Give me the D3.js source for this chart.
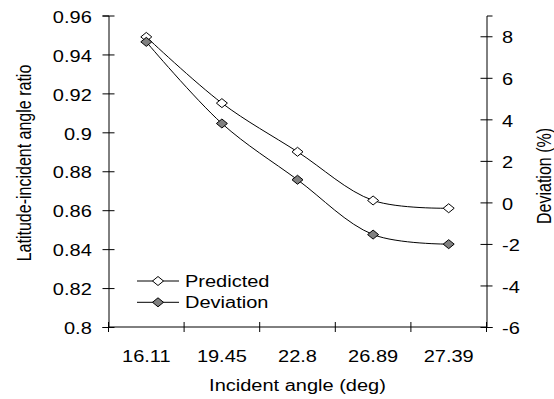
<!DOCTYPE html>
<html>
<head>
<meta charset="utf-8">
<script src="https://cdn.jsdelivr.net/npm/d3@7"></script>
<style>
  body { margin: 0; background: #fff; }
  svg text { font-family: "Liberation Sans", Arial, sans-serif; font-size: 16px; fill: #000; }
</style>
</head>
<body>
<div id="chart"></div>
<script>
// data
const categories = ["16.11", "19.45", "22.8", "26.89", "27.39"];
const predicted = [0.949, 0.915, 0.890, 0.865, 0.861];
const deviation = [7.73, 3.80, 1.09, -1.55, -2.01];
const leftTicks = [0.8, 0.82, 0.84, 0.86, 0.88, 0.9, 0.92, 0.94, 0.96];
const rightTicks = [-6, -4, -2, 0, 2, 4, 6, 8];
const seriesNames = ["Predicted", "Deviation"];

const width = 554, height = 399;
const plot = { left: 108.5, right: 486.5, top: 15.5, bottom: 327 };
const sx = 1.25; // the original text is stretched sideways

const svg = d3.select("#chart").append("svg")
  .attr("width", width)
  .attr("height", height);

const x = d3.scaleBand().domain(categories).range([plot.left, plot.right]);
const yL = d3.scaleLinear().domain([0.8, 0.96]).range([plot.bottom, plot.top]);
const yR = d3.scaleLinear().domain([-6, 9]).range([plot.bottom, plot.top]);

// left axis, ticks cross the line
const gL = svg.append("g")
  .attr("transform", "translate(" + plot.left + ",0)")
  .call(d3.axisLeft(yL).tickValues(leftTicks).tickFormat(d => String(+d.toFixed(2))).tickSize(6).tickPadding(0));
gL.selectAll(".tick line").attr("x1", 6).attr("x2", -6);
gL.selectAll(".tick text")
  .attr("x", -13.4).attr("dy", "0.42em")
  .attr("transform", "scale(" + sx + ",1)");

// right axis
const gR = svg.append("g")
  .attr("transform", "translate(" + plot.right + ",0)")
  .call(d3.axisRight(yR).tickValues(rightTicks).tickFormat(d => String(d)).tickSize(6).tickPadding(0));
gR.selectAll(".tick line").attr("x1", -6).attr("x2", 6);
gR.selectAll(".tick text")
  .attr("x", 12.4).attr("dy", "0.42em")
  .attr("transform", "scale(" + sx + ",1)");

// bottom axis: labels in band centres, ticks on band edges
const gB = svg.append("g")
  .attr("transform", "translate(0," + plot.bottom + ")")
  .call(d3.axisBottom(x).tickSize(0).tickPadding(0));
gB.select(".domain").attr("d", "M" + plot.left + ",0H" + plot.right);
gB.selectAll(".tick text")
  .attr("y", 35).attr("dy", 0)
  .attr("transform", "scale(" + sx + ",1)");
const edges = categories.map(c => x(c)).concat([plot.right]);
gB.selectAll("line.edge")
  .data(edges)
  .enter().append("line")
  .attr("class", "edge")
  .attr("x1", d => d).attr("x2", d => d)
  .attr("y1", -5).attr("y2", 5)
  .attr("stroke", "#000");

svg.selectAll(".domain, .tick line").attr("stroke", "#000");

// series
const cx = c => x(c) + x.bandwidth() / 2;
const diamond = "M0,-4.5L5.5,0L0,4.5L-5.5,0Z";

const linePred = d3.line().x((d, i) => cx(categories[i])).y(d => yL(d)).curve(d3.curveCatmullRom.alpha(0.5));
const lineDev = d3.line().x((d, i) => cx(categories[i])).y(d => yR(d)).curve(d3.curveCatmullRom.alpha(0.5));

svg.append("path").attr("d", linePred(predicted))
  .attr("fill", "none").attr("stroke", "#000").attr("stroke-width", 1);
svg.append("path").attr("d", lineDev(deviation))
  .attr("fill", "none").attr("stroke", "#000").attr("stroke-width", 1);

svg.selectAll("path.mp")
  .data(predicted).enter().append("path")
  .attr("class", "mp")
  .attr("d", diamond)
  .attr("transform", (d, i) => "translate(" + cx(categories[i]) + "," + yL(d) + ")")
  .attr("fill", "#fff").attr("stroke", "#000");

svg.selectAll("path.md")
  .data(deviation).enter().append("path")
  .attr("class", "md")
  .attr("d", diamond)
  .attr("transform", (d, i) => "translate(" + cx(categories[i]) + "," + yR(d) + ")")
  .attr("fill", "#808080").attr("stroke", "#000");

// legend
const legend = svg.append("g").attr("transform", "translate(137,281)");
seriesNames.forEach((name, i) => {
  const g = legend.append("g").attr("transform", "translate(0," + i * 21.3 + ")");
  g.append("line").attr("x1", 0).attr("x2", 42).attr("y1", 0).attr("y2", 0).attr("stroke", "#000");
  g.append("path").attr("d", diamond)
    .attr("transform", "translate(21,0)")
    .attr("fill", i === 0 ? "#fff" : "#808080").attr("stroke", "#000");
  g.append("text")
    .attr("transform", "translate(48,0) scale(" + sx + ",1)")
    .attr("dy", "0.36em")
    .text(name);
});

// axis titles
svg.append("text")
  .attr("transform", "translate(" + ((plot.left + plot.right) / 2) + ",391) scale(" + sx + ",1)")
  .attr("text-anchor", "middle")
  .text("Incident angle (deg)");

svg.append("text")
  .attr("transform", "translate(31,163) scale(" + sx + ",1) rotate(-90)")
  .attr("text-anchor", "middle")
  .text("Latitude-incident angle ratio");

svg.append("text")
  .attr("transform", "translate(551,176) scale(" + sx + ",1) rotate(-90)")
  .attr("text-anchor", "middle")
  .text("Deviation (%)");
</script>
</body>
</html>
